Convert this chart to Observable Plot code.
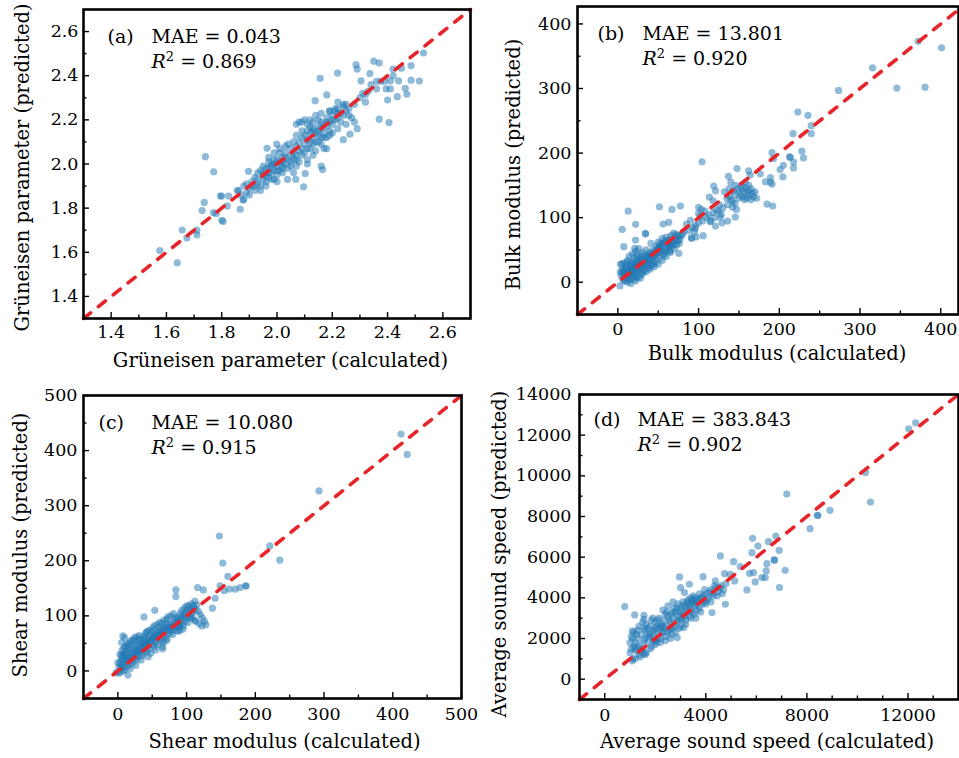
<!DOCTYPE html>
<html><head><meta charset="utf-8">
<script src="https://cdn.jsdelivr.net/npm/d3@7"></script>
<script src="https://cdn.jsdelivr.net/npm/@observablehq/plot@0.6"></script>
<style>
html,body{margin:0;padding:0;background:#fff;}
#fig{position:relative;width:959px;height:758px;overflow:hidden;background:#fff;}
#fig svg{position:absolute;overflow:visible;}
</style></head><body><div id="fig"></div>
<script>
// ---------- Panel (a): Grüneisen parameter ----------
const ptsA = [
[1.576,1.608],[1.639,1.552],[1.657,1.701],[1.674,1.665],[1.71,1.68],[1.71,1.70],[1.729,1.789],[1.737,1.826],[1.741,2.033],[1.771,1.965],
[1.77,1.78],[1.78,1.775],[1.795,1.855],[1.80,1.745],[1.805,1.74],[1.80,1.855],[1.825,1.855],[1.82,1.81],[1.867,1.795],[1.877,1.837],
[1.857,1.88],[1.897,1.967],[1.964,2.071],[1.999,2.09],[2.096,1.897],[2.102,1.957],[2.068,1.93],[2.038,1.93],[2.11,2.0],[2.16,1.99],
[2.165,1.975],[2.138,2.287],[2.156,2.388],[2.18,2.313],[2.219,2.412],[2.286,2.45],[2.29,2.43],[2.28,2.19],[2.29,2.16],[2.264,2.135],
[2.24,2.11],[2.304,2.377],[2.336,2.41],[2.35,2.466],[2.37,2.458],[2.32,2.314],[2.32,2.28],[2.36,2.375],[2.375,2.375],[2.39,2.375],
[2.36,2.34],[2.395,2.34],[2.37,2.203],[2.405,2.188],[2.40,2.29],[2.41,2.34],[2.42,2.43],[2.45,2.434],[2.42,2.40],[2.44,2.377],
[2.435,2.305],[2.464,2.343],[2.47,2.316],[2.485,2.446],[2.485,2.38],[2.515,2.376],[2.53,2.503],[2.41,2.377],[2.33,2.33],[2.34,2.36],
[2.30,2.30],[2.31,2.32],[2.18,2.07],[2.19,2.24],[2.21,2.25],[2.22,2.28],[2.24,2.27],[2.25,2.24],[2.26,2.22],[2.07,2.18],[2.09,2.19],
[1.86,1.88],[1.87,1.86],[1.88,1.90],[1.89,1.87],[1.90,1.89],[1.88,1.84],[1.91,1.92],[1.92,1.88],[1.90,1.86],[1.93,1.91],
[1.92,1.94],[1.94,1.90],[1.93,1.96],[1.95,1.93],[1.94,1.97],[1.95,1.99],[1.96,1.95],[1.96,1.92],[1.97,1.98],[1.97,1.94],
[1.98,2.00],[1.98,1.96],[1.99,1.97],[1.99,2.02],[2.00,1.99],[2.00,1.95],[2.01,2.01],[2.01,1.97],[2.02,2.03],[2.02,1.99],
[1.97,2.01],[1.96,1.98],[1.95,1.96],[1.99,1.93],[2.00,1.92],[2.03,2.00],[2.03,2.05],[2.04,2.02],[2.04,1.98],[2.05,2.04],
[2.05,2.07],[2.06,2.02],[2.06,2.05],[2.05,1.99],[2.07,2.08],[2.07,2.04],[2.08,2.10],[2.08,2.06],[2.02,1.96],[2.01,2.05],
[2.03,2.08],[2.04,2.09],[2.06,2.10],[1.98,1.93],[1.96,1.90],[1.94,1.88],[2.09,2.12],[2.09,2.07],[2.10,2.13],[2.10,2.09],
[2.11,2.15],[2.11,2.11],[2.12,2.14],[2.12,2.10],[2.12,2.17],[2.13,2.12],[2.13,2.16],[2.13,2.19],[2.14,2.14],[2.14,2.10],
[2.15,2.17],[2.15,2.13],[2.15,2.20],[2.16,2.16],[2.16,2.12],[2.17,2.18],[2.17,2.14],[2.18,2.21],[2.18,2.17],[2.19,2.19],
[2.19,2.15],[2.20,2.22],[2.20,2.18],[2.21,2.24],[2.21,2.20],[2.22,2.25],[2.22,2.21],[2.23,2.23],[2.23,2.19],[2.24,2.26],
[2.24,2.22],[2.25,2.27],[2.25,2.18],[2.26,2.25],[2.27,2.21],[2.28,2.27],[2.11,2.18],[2.10,2.20],[2.08,2.19],[2.09,2.15],
[2.07,2.13],[2.14,2.06],[2.12,2.07],[2.16,2.09],[2.18,2.12],[2.20,2.14],[2.22,2.16],[2.19,2.24],[2.16,2.23],[2.17,2.07],
[2.13,2.04],[2.10,2.05],[2.06,1.96],[2.08,2.01],[2.07,1.99],[2.11,2.02],[1.98,1.99],[2.00,2.02],[2.02,2.01],[1.99,2.00],
[1.97,2.03],[1.99,2.05],[2.01,2.07],[2.03,2.03],[2.05,2.01],[2.07,2.02],[2.09,2.04],[2.11,2.07],[2.13,2.09],[2.15,2.10],
[2.17,2.12],[2.19,2.13],[2.12,2.20],[2.14,2.22],[2.16,2.19],[2.18,2.19],[2.20,2.20],[2.22,2.23],[2.13,2.15],[2.15,2.15],
[1.95,1.95],[1.97,1.96],[2.00,1.97],[2.02,1.98],[1.93,1.93],[1.91,1.90],[1.89,1.91],[1.92,1.90]
];
const xDomA = [1.3, 2.7], yDomA = [1.3, 2.7];
const xMajorA = [1.4, 1.6, 1.8, 2.0, 2.2, 2.4, 2.6];
const xMinorA = [1.5, 1.7, 1.9, 2.1, 2.3, 2.5];

// ---------- Panel (b): Bulk modulus ----------
const ptsB = [
[401,363],[372,373],[380.6,302],[345.6,300.6],[315.5,332],[273.4,297],[223,263.6],[235.5,258.4],[239.6,242.5],[239.6,230],
[217,230],[228,203],[230,192.5],[217.7,186],[217.7,177],[212.8,194],[213.5,193.5],[205,181],[201,174.5],[204.5,163],
[191,200.8],[193,191.5],[189,162],[191,152],[189,155],[184.7,121],[191.8,118],[176.5,168],[182.7,155.5],[104.3,186.4],
[147.6,176],[162,172.5],[164,166],[118.8,149],[121,141.6],[113.4,132],[121,87],[114.6,93.7],[100,116],[100,106.6],
[103.5,112.7],[96,83.4],[105.6,72],[91,69],[91.5,68],[77.5,118],[67,112.7],[51.5,116.9],[56,90],[63,92.7],
[12.8,110],[22,89.6],[5.4,81.9],[7.4,55],[21.9,65.4],[21,52.5],[34,75.7],[34.5,74.5],[41,60],[3.3,28],
[2.5,-5.7],[73.4,73],[75.5,44.8],[65,48],[127,101],[129,92],[136,94.7],[145.5,101],[147,112.7],[137,164],
[140,155],[143,142],[138,133],[145,122],[142,116],
[8,12],[10,8],[12,15],[14,10],[15,20],[16,14],[18,8],[18,22],[20,16],[20,26],[22,12],[22,20],[24,28],[25,18],[26,24],
[28,30],[28,14],[30,22],[30,34],[32,26],[33,18],[34,32],[35,38],[36,28],[38,34],[38,22],[40,40],[40,30],[42,36],[43,44],
[44,28],[45,40],[46,48],[47,34],[48,42],[50,46],[50,52],[52,38],[52,56],[54,48],[55,60],[56,44],[58,52],[58,64],[60,56],
[60,70],[62,50],[62,62],[64,66],[65,58],[66,72],[68,62],[70,68],[72,74],[74,64],[75,70],[76,60],[78,72],[6,20],[5,28],
[8,30],[10,24],[12,34],[14,40],[16,30],[18,44],[20,38],[22,48],[24,42],[26,52],[28,36],[30,46],[6,5],[9,3],[12,0],
[15,4],[20,5],[25,8],[30,12],[35,16],[40,20],[45,24],[50,28],[55,34],[60,40],[65,46],[70,52],[4,10],[3,16],[7,18],
[11,22],[13,6],[17,18],[19,12],[21,28],[23,8],[27,20],[29,26],[31,16],[33,30],[36,42],[37,24],[39,46],[41,26],[46,30],
[48,56],[53,60],[57,42],[59,48],[63,54],[67,56],[69,76],[73,58],[77,66],[80,74],[55,68],[50,62],[44,50],[35,50],[25,36],
[17,26],[10,18],[8,2],[22,2],[16,-2],[28,6],
[150,140],[152,135],[154,145],[155,132],[156,140],[157,128],[158,146],[160,138],[160,130],[162,142],[163,135],[165,128],
[165,145],[167,138],[150,130],[148,145],[153,150],[158,155],[162,150],[168,132],[170,140],[172,130],[145,135],[140,128],
[136,120],[130,115],[128,105],[125,110],[120,100],[118,108],[115,95],[110,100],[105,95],[100,92],[96,88],[92,85],[88,80],
[85,90],[82,78],[135,130],[132,140],[138,145],[142,125],[146,150],[108,110],[112,104],[122,112],[126,120],[118,126],
[102,102],[90,96],[95,78],[97,70],
[5,15],[9,10],[11,30],[13,18],[15,26],[19,32],[23,34],[27,40],[31,42],[34,36],[37,40],[39,38],[42,44],[44,40],[47,46],
[49,50],[51,54],[53,50],[57,60],[61,64],[63,60],[66,64],[68,58],[71,64],[10,12],[14,14],[26,30],[30,28],[18,18],[22,24]
];
const xDomB = [-50, 422], yDomB = [-50, 427];
const majorB = [0, 100, 200, 300, 400];
const minorB = [50, 150, 250, 350];

// ---------- Panel (c): Shear modulus ----------
const ptsC = [
[412,430],[421,393],[292.7,327],[221,227],[235.6,201],[147.8,245],[152.7,196],[160,171.5],[141.5,132],[137.6,114],
[162,148.5],[170.7,148.5],[178,151.5],[186,154.5],[186.5,154],[154.6,145.5],[148.8,154.5],[116,151.5],[124.4,147],[84.4,147],
[84.4,135],[53.7,110],[38,98],[7.3,63.6],[9.8,60.6],[5.4,51.5],[14.6,-7.3],[122,81.8],[113,90],[118,86],
[108,96],[100,118],[110,118],[112,127],[0,15],[-2,-2],[65,40],[70,55],[90,74],[95,76],
[2,8],[3,15],[4,5],[5,20],[6,12],[7,25],[8,8],[9,18],[10,28],[10,2],[12,14],[12,22],[14,30],[14,8],[15,18],
[16,34],[17,24],[18,12],[19,38],[20,28],[20,20],[22,40],[22,16],[23,32],[24,24],[25,44],[26,36],[27,20],[28,48],[28,30],
[30,40],[30,26],[32,50],[32,34],[34,44],[35,28],[36,54],[36,38],[38,48],[38,32],[40,58],[40,42],[42,52],[42,36],[44,46],
[45,60],[46,40],[47,54],[48,64],[50,48],[50,56],[52,62],[53,44],[54,66],[55,52],[56,70],[57,58],[58,48],[60,64],[60,72],
[62,56],[63,68],[64,74],[65,60],[66,52],[68,70],[68,78],[70,64],[72,74],[72,58],[74,80],[75,68],[76,76],[78,72],[78,84],
[80,78],[80,66],[82,82],[84,74],[85,88],[86,80],[88,84],[88,72],[90,90],[90,80],[92,86],[94,94],[95,82],[96,100],[98,90],
[100,96],[100,106],[102,88],[104,100],[105,110],[106,96],[108,104],[110,116],[112,92],[115,120],[25,54],[20,48],[15,42],
[12,36],[8,32],[5,28],[18,54],[30,56],[40,66],[50,72],[60,80],[70,86],[44,26],[34,20],[26,10],[18,4],[8,0],[1,-4],[4,-2],
[55,38],[65,44],[48,32],
[3,30],[6,38],[9,42],[11,45],[13,48],[16,50],[21,56],[24,60],[27,62],[31,64],[33,58],[37,62],[41,70],[43,72],[46,74],
[51,78],[53,82],[57,84],[61,88],[64,86],[67,92],[71,94],[73,98],[77,100],[81,104],[83,96],[87,98],[91,104],[93,110],[97,114],
[101,112],[103,118],[107,122],[109,108],[113,112],[117,108],[120,102],[123,96],[126,90],[128,84],[14,20],[19,24],[24,30],
[29,36],[33,40],[37,46],[41,50],[46,54],[51,60],[56,64],[61,70],[66,76],[71,80],[76,86],[82,90],[87,94],[92,98],[97,104]
];
const domC = [-50, 500];
const majorC = [0, 100, 200, 300, 400, 500];
const minorC = [50, 150, 250, 350, 450];

// ---------- Panel (d): Average sound speed ----------
const ptsD = [
[12304,12609],[12028,12314],[10319,10153],[10516,8712],[7203,9105],[8912,8302],[8413,8057],[8440,8050],[8124,7402],[6770,7041],
[6901,6337],[7138,5355],[6914,4503],[6704,5862],[6720,5850],[5850,6927],[6480,6763],[6060,6550],[5824,6223],[6415,5682],
[6389,5322],[6350,4994],[6218,4994],[5955,4781],[5626,4389],[5889,5240],[5731,5207],[5363,5535],[5100,5780],[4574,6059],
[4772,3684],[5140,4830],[4969,5158],[4745,5190],[4377,4830],[4246,3275],[3891,5043],[3352,4667],[2957,5027],[789,3570],
[1183,3160],[1551,3144],[1551,2947],[1091,2374],[3155,4257],[3589,4012],[3128,2538],[2866,2047],[1945,1883],[1551,1261],
[1091,900],
[1000,1300],[1100,1000],[1150,1600],[1200,1800],[1250,1400],[1300,2000],[1350,1200],[1400,1700],[1450,2200],[1500,1500],
[1550,1900],[1600,2400],[1650,1300],[1700,1800],[1750,2100],[1800,2600],[1850,1600],[1900,2000],[1950,2300],[2000,2800],
[2050,1800],[2100,2200],[2150,2500],[2200,2000],[2250,2700],[2300,2300],[2350,2900],[2400,2100],[2450,2600],[2500,3100],
[2550,2400],[2600,2800],[2650,2200],[2700,3000],[2750,2600],[2800,3300],[2850,2800],[2900,3100],[2950,2500],[3000,3400],
[3050,2900],[3100,3200],[3150,3600],[3200,2900],[3250,3300],[3300,3700],[3350,3100],[3400,3500],[3450,3300],[3500,3800],
[3550,3200],[3600,3600],[3650,3400],[3700,3900],[3750,3500],[3800,4000],[3850,3700],[3900,4100],[3950,3800],[4000,4200],
[4100,4000],[4200,4400],[4300,4100],[4400,4500],[4500,4300],[4600,4600],[4700,4400],[1100,2000],[1300,2400],[1500,2800],
[1700,2500],[1900,3000],[2100,2900],[2300,3400],[2500,3600],[2700,3800],[2900,3700],[1200,1000],[1400,1100],[1600,1200],
[1800,1500],[2000,1700],[2200,1800],[2400,1900],[2600,2000],[2800,2300],[3000,2600],[3200,2700],[3400,3000],[3600,3000],
[3800,3300],[4000,3700],[4200,3800],[1050,1500],[1250,2200],[2750,3500],[3300,3900],[3500,4100],[3100,3800],[3000,4500],
[3400,4000],[2000,2500],[1800,2200],[2400,3200],[1600,2000],[2300,2600],[2500,2300],[2900,2900],
[1000,1800],[1050,2100],[1150,2300],[1200,1500],[1300,1600],[1350,2600],[1450,1400],[1550,2500],[1650,2700],[1700,2200],
[1850,2900],[1950,1900],[2050,2600],[2150,3000],[2250,2300],[2350,2500],[2450,3300],[2550,2900],[2650,3200],[2700,2500],
[2850,3500],[2950,3300],[3050,3600],[3150,3100],[3250,3800],[3350,3400],[3450,3900],[3550,3700],[3650,3800],[3750,4200],
[3850,4000],[3950,4400],[4050,3900],[4150,4300],[4250,4200],[4350,4600],[4450,4100],[4550,4500],[4650,4200],[4800,4700],
[2200,2600],[2600,2500],[3000,3000],[3400,3700],[1900,2400],[2100,2000],[2700,3300],[3200,3500],[3600,3900]
];
const domD = [-1000, 14000];
const xMajorD = [0, 4000, 8000, 12000];
const xMinorD = [1000, 2000, 3000, 5000, 6000, 7000, 9000, 10000, 11000, 13000];
const yMajorD = [0, 2000, 4000, 6000, 8000, 10000, 12000, 14000];
const yMinorD = [1000, 3000, 5000, 7000, 9000, 11000, 13000];

// ---------- texts ----------
const tags = ["(a)", "(b)", "(c)", "(d)"];
const maeText = ["MAE = 0.043", "MAE = 13.801", "MAE = 10.080", "MAE = 383.843"];
const r2Text = ["0.869", "0.920", "0.915", "0.902"];
const xTitles = ["Grüneisen parameter (calculated)", "Bulk modulus (calculated)", "Shear modulus (calculated)", "Average sound speed (calculated)"];
const yTitles = ["Grüneisen parameter (predicted)", "Bulk modulus (predicted)", "Shear modulus (predicted)", "Average sound speed (predicted)"];

const FONT = "'DejaVu Serif', serif";
const BLUE = "#1f77b4", RED = "#e8242b";
const TICKFS = 17.5, TITLEFS = 19.5, ANFS = 19;

function panel(o) {
  const iw = o.w - o.mL - o.mR, ih = o.h - o.mT - o.mB;
  const tk = {stroke: "#000", strokeWidth: 1.4};
  const txt = {text: d => d, lineAnchor: "middle"};
  const svg = Plot.plot({
    width: o.w, height: o.h,
    marginLeft: o.mL, marginRight: o.mR, marginTop: o.mT, marginBottom: o.mB,
    x: {domain: o.xDom, label: null},
    y: {domain: o.yDom, label: null},
    style: {fontFamily: FONT, fontSize: TICKFS + "px", color: "#000", background: "none", overflow: "visible"},
    marks: [
      Plot.dot(o.pts, {x: d => d[0], y: d => d[1], r: 3.6, fill: BLUE, fillOpacity: 0.5, stroke: "none"}),
      Plot.line(o.diag, {x: d => d, y: d => d, stroke: RED, strokeWidth: 3.6, strokeDasharray: "9,10", strokeLinecap: "round"}),
      Plot.tickX(o.xMajor, {x: d => d, insetTop: ih - 6, ...tk}),
      Plot.tickX(o.xMinor, {x: d => d, insetTop: ih - 3.5, ...tk}),
      Plot.tickY(o.yMajor, {y: d => d, insetRight: iw - 6, ...tk}),
      Plot.tickY(o.yMinor, {y: d => d, insetRight: iw - 3.5, ...tk}),
      Plot.axisX(o.xMajor, {tickSize: 0, tickPadding: o.xPad, tickFormat: o.fmt, fontSize: TICKFS, label: null}),
      Plot.axisY(o.yMajor, {tickSize: 0, tickPadding: o.yPad, tickFormat: o.fmt, fontSize: TICKFS, label: null}),
      Plot.frame({stroke: "#000", strokeWidth: 2.6}),
      Plot.text([o.xTitle], {...txt, frameAnchor: "bottom", textAnchor: "middle", dx: o.xt[0], dy: o.xt[1], fontSize: TITLEFS}),
      Plot.text([o.yTitle], {...txt, frameAnchor: "left", textAnchor: "middle", rotate: -90, dx: o.yt[0], dy: o.yt[1], fontSize: TITLEFS}),
      Plot.text([o.tag], {...txt, frameAnchor: "top-left", textAnchor: "start", dx: o.an[0], dy: o.an[1], fontSize: ANFS}),
      Plot.text([o.mae], {...txt, frameAnchor: "top-left", textAnchor: "start", dx: o.an[2], dy: o.an[1], fontSize: ANFS}),
      Plot.text(["R^2" + o.r2], {...txt, frameAnchor: "top-left", textAnchor: "start", dx: o.an[2], dy: o.an[3], fontSize: ANFS})
    ]
  });
  d3.select(svg).selectAll("text").each(function() {
    const t = this.textContent;
    if (t.startsWith("R^2")) {
      const val = t.slice(3);
      const s = d3.select(this);
      s.text(null);
      s.append("tspan").attr("font-style", "italic").text("R");
      s.append("tspan").attr("font-size", 13).attr("dy", -7).text("2");
      s.append("tspan").attr("dy", 7).text(" = " + val);
    }
  });
  svg.style.left = o.left + "px";
  svg.style.top = o.top + "px";
  document.getElementById("fig").appendChild(svg);
}

const f1 = d3.format(".1f"), fd = d3.format("d");

panel({left: 0, top: 0, w: 480, h: 379, mL: 83, mR: 10, mT: 9, mB: 61,
  xDom: xDomA, yDom: yDomA, pts: ptsA, diag: xDomA,
  xMajor: xMajorA, xMinor: xMinorA, yMajor: xMajorA, yMinor: xMinorA,
  fmt: f1, xPad: 7, yPad: 5, xTitle: xTitles[0], yTitle: yTitles[0],
  xt: [3.5, 42], yt: [-61, 3.5], an: [24, 27, 68, 52], tag: tags[0], mae: maeText[0], r2: r2Text[0]});

panel({left: 480, top: 0, w: 479, h: 379, mL: 97, mR: 1, mT: 6, mB: 65,
  xDom: xDomB, yDom: yDomB, pts: ptsB, diag: [-50, 422],
  xMajor: majorB, xMinor: minorB, yMajor: majorB, yMinor: minorB,
  fmt: fd, xPad: 8, yPad: 6, xTitle: xTitles[1], yTitle: yTitles[1],
  xt: [9, 39], yt: [-64, 4], an: [20, 27, 65, 52], tag: tags[1], mae: maeText[1], r2: r2Text[1]});

panel({left: 0, top: 380, w: 480, h: 378, mL: 83, mR: 19, mT: 15, mB: 60,
  xDom: domC, yDom: domC, pts: ptsC, diag: domC,
  xMajor: majorC, xMinor: minorC, yMajor: majorC, yMinor: minorC,
  fmt: fd, xPad: 9, yPad: 6, xTitle: xTitles[2], yTitle: yTitles[2],
  xt: [12, 43], yt: [-63, -2], an: [15, 27, 68, 52], tag: tags[2], mae: maeText[2], r2: r2Text[2]});

panel({left: 480, top: 380, w: 479, h: 378, mL: 99, mR: 1, mT: 14, mB: 59,
  xDom: domD, yDom: domD, pts: ptsD, diag: domD,
  xMajor: xMajorD, xMinor: xMinorD, yMajor: yMajorD, yMinor: yMinorD,
  fmt: fd, xPad: 9, yPad: 8, xTitle: xTitles[3], yTitle: yTitles[3],
  xt: [-2, 42], yt: [-80, 7], an: [14, 25, 58, 50], tag: tags[3], mae: maeText[3], r2: r2Text[3]});
</script>
</body></html>
